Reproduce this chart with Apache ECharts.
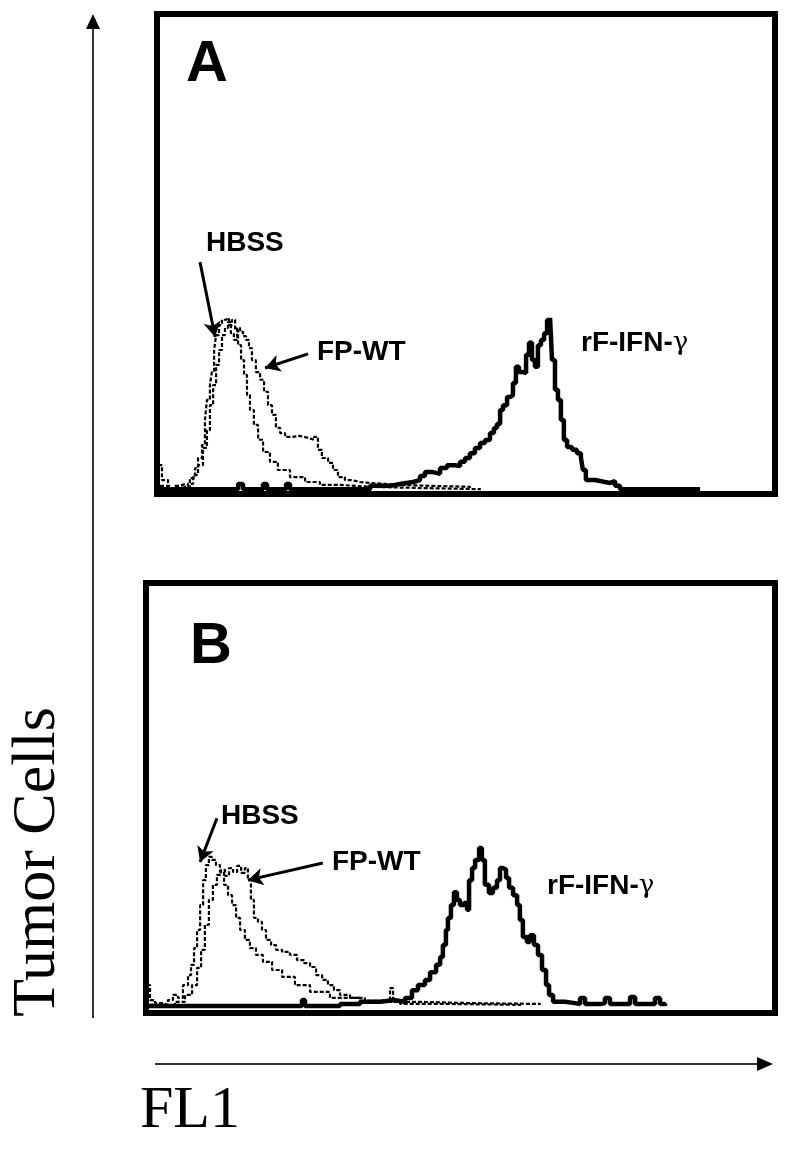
<!DOCTYPE html>
<html>
<head>
<meta charset="utf-8">
<script src="https://cdn.jsdelivr.net/npm/echarts@6/dist/echarts.min.js"></script>
<style>html,body{margin:0;padding:0;background:#fff}#c{width:800px;height:1165px}</style>
</head>
<body>
<div id="c"></div>
<script>
// ---- Data: FL1 channel (x) vs relative cell count (y) ----
var hbssA = [[0.4,6.0],[2.0,2.9],[4.5,1.25],[7.3,1.7],[9.3,2.1],[11.3,1.25],[13.3,3.3],[15.4,5.4],[16.6,7.5],[18.2,10.2],[19.4,15.4],[20.2,19.6],[21.4,22.7],[22.2,25.4],[23.1,30],[23.9,33.1],[25.1,35.2],[26.3,36.3],[27.9,36.7],[29.1,35.2],[30.3,36.3],[31.6,34.2],[32.8,31],[34,27.9],[35.2,24.8],[36.4,20.6],[37.6,17.5],[39.2,14.4],[40.9,11.3],[42.9,8.75],[45.7,6.7],[48.9,5],[53.8,3.5],[59.9,2.5],[65.9,1.9],[74,1.5],[86,1.25],[106,1.0],[131,1.0]];
var fpwtA = [[1.2,1.7],[5.3,1.25],[9.3,1.5],[12.5,2.1],[14.6,4.0],[16.6,6.0],[18.6,9.6],[20.2,13.3],[21.4,18.5],[22.7,22.7],[23.9,26.9],[25.1,30],[26.3,33.1],[27.5,34.6],[28.7,35.8],[29.9,33.5],[31.1,32.1],[32.4,34.6],[33.6,33.8],[34.8,32.9],[36,32.1],[37.2,30.4],[38.4,27.9],[40,25.4],[41.7,23.8],[43.3,21.3],[44.9,18.5],[46.5,16.5],[48.1,13.8],[49.8,12.7],[51.8,11.9],[54.6,12.1],[57.8,11.7],[61.1,11.3],[63.5,11.9],[65.1,9.2],[66.7,7.5],[69.2,6.5],[71.2,5.0],[73.2,3.5],[76,2.9],[78.9,2.5],[82.1,2.3],[86.2,2.1],[92.2,1.9],[98.3,1.7],[110.4,1.5],[126.6,1.25]];
var rfA = [[0,1.0],[31.6,1.0],[32.8,2.1],[34.8,1.0],[41.7,1.0],[42.9,2.1],[44.5,1.0],[51,1.0],[52.2,2.1],[53.8,1.0],[74,1.0],[86.2,1.7],[94.3,2.1],[98.3,2.5],[103.6,2.9],[106.4,3.75],[108.4,4.6],[111.2,4.2],[114.5,5.4],[117.3,6.0],[120.6,5.8],[122.6,6.7],[124.6,7.5],[126.6,8.5],[128.6,9.6],[130.7,10.6],[132.7,11.25],[134.7,12.7],[136.3,13.75],[137.5,14.6],[138.8,17.5],[140,18.5],[141.6,20.2],[142.8,20.6],[144,23.1],[145.2,26.5],[146.4,25.4],[148.1,25.2],[149.3,29],[150.5,31.5],[151.7,27.9],[152.9,26.5],[154.1,31],[155.3,32.1],[156.6,33.5],[157.8,36.25],[159,36.7],[159.8,27.9],[161,21.7],[162.2,19.6],[163.4,15.4],[164.6,11.25],[165.9,9.8],[167.9,9.2],[169.9,8.5],[171.5,7.5],[172.3,5.0],[173.5,2.9],[177.2,2.5],[181.2,2.3],[183.3,2.7],[185.3,1.7],[187.3,1.0],[219.7,1.0]];

var hbssB = [[0.4,6.5],[1.6,3.0],[3.6,2.3],[6.4,1.9],[8.7,3.0],[10.7,4.2],[12.7,3.5],[14.7,6.5],[16.7,8.8],[17.9,11.2],[19.1,15.1],[20.3,19.3],[21.5,25.1],[22.7,30.9],[23.8,34.4],[25,36.3],[26.2,35.6],[27.8,34.4],[29.4,32.8],[31,29.8],[32.6,27.4],[34.2,25.1],[35.8,22.1],[37.4,19.3],[39.3,17.0],[41.3,15.1],[43.7,13.5],[46.5,11.9],[50.1,10.0],[54.1,8.4],[59.2,6.5],[65.2,4.9],[73.1,3.5],[85.1,2.6],[101,2.1],[120.8,1.9],[148.6,1.6]];
var fpwtB = [[1.6,1.9],[7.6,1.6],[11.5,2.6],[15.5,4.2],[18.3,6.5],[20.3,10.5],[21.9,14.7],[23.4,20.5],[25,26.3],[26.6,29.8],[28.2,32.1],[29.8,33.3],[31.4,31.9],[33,33.7],[34.6,32.8],[36.2,34.2],[37.8,32.6],[39.3,33.7],[40.5,30.9],[41.7,26.3],[42.9,22.1],[44.5,21.2],[46.1,19.3],[47.7,17.0],[49.7,15.8],[51.7,14.7],[54.1,14.2],[57.2,13.5],[60,12.3],[62.8,11.6],[65.2,10.7],[67.6,8.8],[70,7.7],[72.3,6.5],[74.7,5.3],[77.1,4.2],[81.1,3.5],[87,2.8],[93,2.6],[97,5.8],[98.2,2.6],[108.9,2.3],[128.8,2.1],[156.6,1.9]];
var rfB = [[0.8,1.6],[61.2,1.6],[62,3.0],[63.2,1.6],[77.1,2.1],[85.1,2.6],[93,3.0],[99,2.6],[102.9,3.5],[105.7,5.3],[108.1,6.5],[110.9,7.7],[112.9,9.5],[115.3,11.2],[116.9,13.0],[118,15.8],[119.2,19.3],[120,22.1],[121.2,25.1],[122.4,28.1],[123.6,26.3],[124.8,25.1],[126.4,25.6],[127.6,24],[128.4,30.9],[129.6,33.7],[130.8,35.6],[132.4,38.4],[133.5,35.6],[134.7,29.8],[136.3,27.9],[137.9,29.1],[139.5,30.9],[140.7,33.7],[141.9,33.3],[143.1,31.4],[144.3,29.1],[145.9,27.4],[147.5,25.1],[148.6,21.6],[149.8,17.7],[151.4,16.5],[152.6,18.1],[154.2,15.8],[155.8,13.5],[157.4,10.0],[159,6.5],[160.2,4.2],[161.8,2.6],[166.5,2.3],[170.5,2.1],[172.5,3.5],[174.5,2.1],[180.4,2.3],[182.4,3.5],[184.4,2.1],[190.4,2.1],[192.4,3.7],[194.4,2.1],[200.3,2.1],[202.3,3.5],[204.3,2.1],[206.3,1.6]];

// annotation arrows (data coords): [from, to]
var arrowsA = [[[17.4,48.3],[23.5,32.7]], [[61.1,29.2],[43.7,26.25]]];
var arrowsB = [[[28.2,45.3],[21.5,35.1]], [[70.3,34.9],[40.5,30.9]]];

var panelLabels = ['A','B'];
var seriesNames = ['HBSS','FP-WT','rF-IFN-'];

var chart = echarts.init(document.getElementById('c'), null, {renderer:'canvas'});

function dotted(name, data, idx){
  return {type:'line', name:name, data:data, xAxisIndex:idx, yAxisIndex:idx, step:'end',
    showSymbol:false, silent:true, lineStyle:{color:'#000', width:2.2, type:[4,2]}, z:3};
}
function solid(name, data, idx){
  return {type:'line', name:name, data:data, xAxisIndex:idx, yAxisIndex:idx, step:'end',
    showSymbol:false, silent:true, lineStyle:{color:'#000', width:4.5}, z:4};
}
function arrowSeries(arrs, idx){
  return {type:'line', data:[], xAxisIndex:idx, yAxisIndex:idx, silent:true,
    markLine:{silent:true, symbol:['none','arrow'], symbolSize:[13,15], animation:false,
      label:{show:false}, lineStyle:{color:'#000', width:3, type:'solid'},
      data: arrs.map(function(a){return [{coord:a[0]},{coord:a[1]}];})}};
}

var bold = 'bold 28px "Liberation Sans", Arial, sans-serif';
function txt(x, y, t, font){
  return {type:'text', x:x, y:y, style:{text:t, font:font, fill:'#000', textAlign:'left', textVerticalAlign:'middle'}, z:10};
}
function rfLabel(x, y){
  return {type:'text', x:x, y:y, z:10, style:{text:'{b|'+seriesNames[2]+'}{g|γ}', textAlign:'left', textVerticalAlign:'middle',
    rich:{b:{font:bold, fill:'#000'}, g:{font:'26px "DejaVu Serif", serif', fill:'#000'}}}};
}

var option = {
  animation:false,
  backgroundColor:'#fff',
  grid:[
    {left:157, top:14, width:618, height:480, show:true, borderColor:'#000', borderWidth:6, backgroundColor:'transparent'},
    {left:146, top:583, width:629, height:430, show:true, borderColor:'#000', borderWidth:6, backgroundColor:'transparent'}
  ],
  xAxis:[
    {type:'value', gridIndex:0, min:0, max:250, show:false},
    {type:'value', gridIndex:1, min:0, max:250, show:false}
  ],
  yAxis:[
    {type:'value', gridIndex:0, min:0, max:100, show:false},
    {type:'value', gridIndex:1, min:0, max:100, show:false}
  ],
  series:[
    dotted(seriesNames[0], hbssA, 0), dotted(seriesNames[1], fpwtA, 0), solid('rF-IFN-γ', rfA, 0),
    dotted(seriesNames[0], hbssB, 1), dotted(seriesNames[1], fpwtB, 1), solid('rF-IFN-γ', rfB, 1),
    arrowSeries(arrowsA, 0), arrowSeries(arrowsB, 1)
  ],
  graphic:[
    // axis arrows
    {type:'line', shape:{x1:93, y1:1018, x2:93, y2:28}, style:{stroke:'#333', lineWidth:2}},
    {type:'polygon', shape:{points:[[93,14],[86,29],[100,29]]}, style:{fill:'#000'}},
    {type:'line', shape:{x1:155, y1:1064, x2:758, y2:1064}, style:{stroke:'#333', lineWidth:2}},
    {type:'polygon', shape:{points:[[773,1064],[757,1057],[757,1071]]}, style:{fill:'#000'}},
    {type:'text', x:38, y:862, rotation:Math.PI/2, style:{text:'Tumor Cells', font:'62px "Liberation Serif", "Times New Roman", serif', fill:'#000', textAlign:'center', textVerticalAlign:'middle'}},
    txt(140, 1111, 'FL1', '60px "Liberation Serif", "Times New Roman", serif'),
    txt(186, 65, panelLabels[0], 'bold 58px "Liberation Sans", Arial, sans-serif'),
    txt(190, 647, panelLabels[1], 'bold 58px "Liberation Sans", Arial, sans-serif'),
    txt(206, 243, seriesNames[0], bold),
    txt(317, 352, seriesNames[1], bold),
    rfLabel(581, 343),
    txt(221, 816, seriesNames[0], bold),
    txt(332, 862, seriesNames[1], bold),
    rfLabel(547, 886)
  ]
};
chart.setOption(option);
</script>
</body>
</html>
